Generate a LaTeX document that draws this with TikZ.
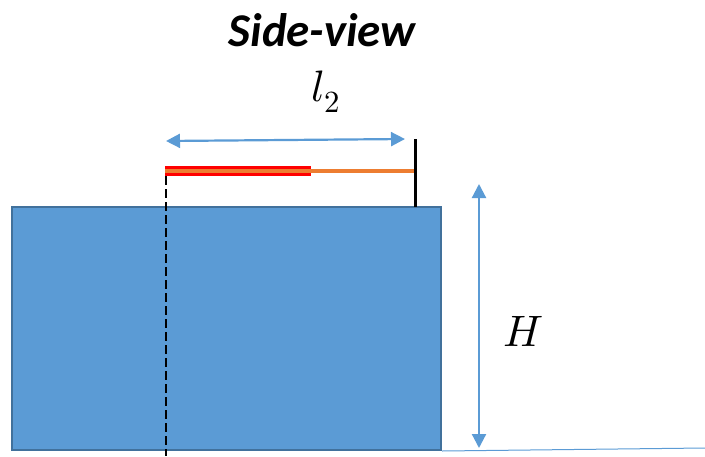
\documentclass[tikz,border=0pt]{standalone}
\usepackage{fontspec}
\usepackage{unicode-math}
\newfontfamily\titlefont{Carlito}
\usetikzlibrary{arrows.meta}

\definecolor{blockblue}{HTML}{5B9BD5}
\definecolor{blockedge}{HTML}{41719C}
\definecolor{barorange}{HTML}{ED7D31}

\begin{document}
\begin{tikzpicture}[x=1pt, y=-1pt,
        block/.style={rectangle, draw=blockedge, line width=2pt, fill=blockblue, minimum width=429pt, minimum height=243pt, inner sep=0pt},
        dimline/.style={{Triangle[length=14pt,width=14pt]}-{Triangle[length=14pt,width=14pt]}, blockblue, line width=2.2pt},
        label/.style={inner sep=0pt, font=\fontsize{44}{48}\selectfont}
    ]
    \useasboundingbox (0,0) rectangle (705,456);

    % Define block and ground
    \node[block] (block) at (226.5,328.5) {};
    \coordinate (groundend) at (705,448);
    \draw[blockblue, line width=1pt] (block.south east) -- (groundend);

    % Define bar points
    \coordinate (barstart) at (165,171);
    \coordinate (redend) at (311,171);
    \coordinate (postbase) at (415,207);
    \coordinate (posttop) at (415,139);
    \coordinate (dashtop) at (166,176);
    \coordinate (dashbottom) at (166,456);

    % Draw bar and post
    \draw[black, line width=2.2pt, dash pattern=on 9pt off 4pt] (dashtop) -- (dashbottom);
    \draw[red, line width=10pt] (barstart) -- (redend);
    \draw[barorange, line width=3.5pt] (barstart) -- (posttop |- barstart);
    \draw[black, line width=3pt] (postbase) -- (posttop);

    % Dimensions
    \coordinate (lenleft) at (166,141);
    \coordinate (lenright) at (405,139);
    \draw[dimline] (lenleft) -- (lenright);
    \coordinate (htop) at (479,184);
    \coordinate (hbottom) at (479,448);
    \draw[dimline] (htop) -- (hbottom);

    % Labels
    \node[inner sep=0pt, font=\titlefont\bfseries\itshape\fontsize{47}{50}\selectfont] (title) at (322,30) {Side-view};
    \node[label] (lenlabel) at (326,92) {$l_2$};
    \node[label] (hlabel) at (523,331) {$H$};
\end{tikzpicture}
\end{document}
